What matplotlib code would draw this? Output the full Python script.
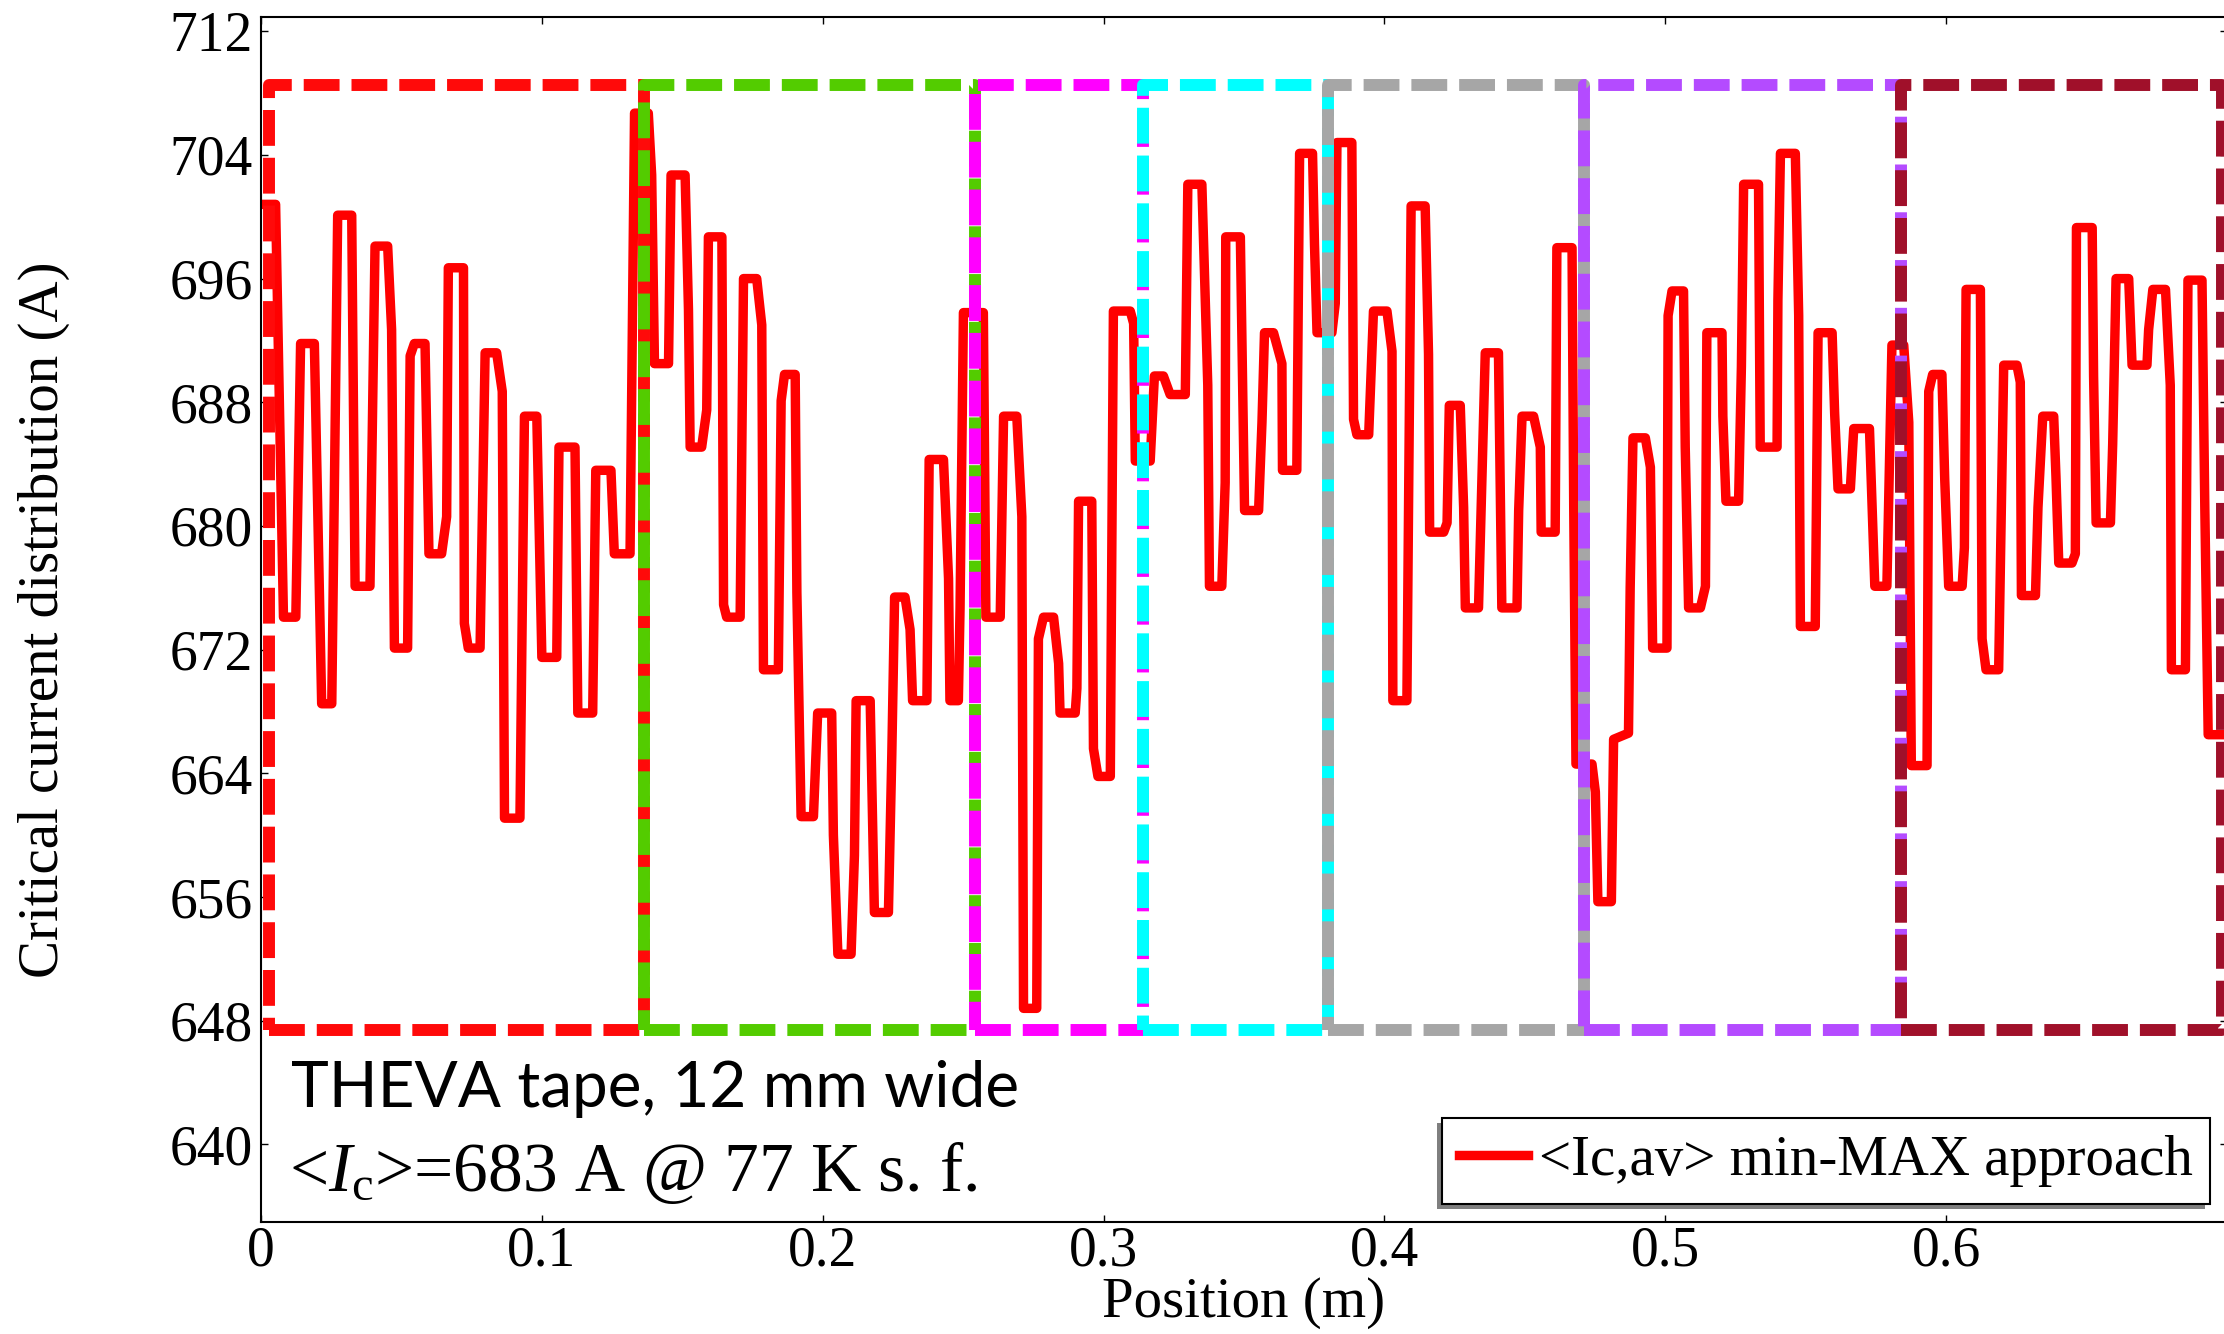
import matplotlib.pyplot as plt
from matplotlib.patches import Rectangle

# min-MAX averaged critical current along the tape
pos = [0.0012, 0.0052, 0.0080, 0.0124, 0.0141, 0.0190, 0.0216, 0.0252, 0.0273, 0.0323,
       0.0335, 0.0388, 0.0406, 0.0451, 0.0465, 0.0475, 0.0522, 0.0531, 0.0546, 0.0584,
       0.0598, 0.0643, 0.0661, 0.0667, 0.0721, 0.0724, 0.0738, 0.0780, 0.0798, 0.0839,
       0.0859, 0.0867, 0.0922, 0.0938, 0.0982, 0.1000, 0.1053, 0.1061, 0.1118, 0.1128,
       0.1181, 0.1192, 0.1246, 0.1258, 0.1314, 0.1330, 0.1379, 0.1391, 0.1401, 0.1451,
       0.1460, 0.1510, 0.1522, 0.1528, 0.1569, 0.1587, 0.1593, 0.1641, 0.1647, 0.1658,
       0.1706, 0.1718, 0.1765, 0.1783, 0.1789, 0.1842, 0.1852, 0.1864, 0.1902, 0.1908,
       0.1923, 0.1967, 0.1982, 0.2032, 0.2038, 0.2054, 0.2101, 0.2113, 0.2119, 0.2169,
       0.2184, 0.2234, 0.2246, 0.2256, 0.2293, 0.2311, 0.2320, 0.2371, 0.2379, 0.2430,
       0.2448, 0.2453, 0.2483, 0.2489, 0.2501, 0.2572, 0.2581, 0.2632, 0.2638, 0.2644,
       0.2691, 0.2709, 0.2715, 0.2762, 0.2768, 0.2786, 0.2822, 0.2840, 0.2845, 0.2899,
       0.2905, 0.2911, 0.2958, 0.2964, 0.2980, 0.3024, 0.3035, 0.3095, 0.3107, 0.3113,
       0.3166, 0.3181, 0.3213, 0.3237, 0.3291, 0.3300, 0.3350, 0.3371, 0.3377, 0.3421,
       0.3433, 0.3435, 0.3487, 0.3502, 0.3552, 0.3564, 0.3573, 0.3605, 0.3635, 0.3637,
       0.3688, 0.3698, 0.3744, 0.3751, 0.3760, 0.3813, 0.3825, 0.3831, 0.3884, 0.3890,
       0.3902, 0.3944, 0.3961, 0.4009, 0.4027, 0.4030, 0.4080, 0.4095, 0.4145, 0.4157,
       0.4161, 0.4211, 0.4223, 0.4231, 0.4270, 0.4282, 0.4288, 0.4335, 0.4359, 0.4406,
       0.4418, 0.4472, 0.4478, 0.4490, 0.4531, 0.4555, 0.4558, 0.4608, 0.4614, 0.4668,
       0.4674, 0.4682, 0.4739, 0.4751, 0.4760, 0.4808, 0.4816, 0.4869, 0.4875, 0.4885,
       0.4929, 0.4947, 0.4955, 0.5006, 0.5010, 0.5024, 0.5065, 0.5071, 0.5083, 0.5125,
       0.5143, 0.5148, 0.5202, 0.5205, 0.5216, 0.5261, 0.5271, 0.5279, 0.5332, 0.5338,
       0.5398, 0.5401, 0.5410, 0.5463, 0.5475, 0.5481, 0.5534, 0.5544, 0.5594, 0.5603,
       0.5615, 0.5659, 0.5671, 0.5683, 0.5727, 0.5746, 0.5789, 0.5807, 0.5849, 0.5867,
       0.5876, 0.5932, 0.5938, 0.5952, 0.5985, 0.5995, 0.6009, 0.6057, 0.6065, 0.6071,
       0.6122, 0.6128, 0.6142, 0.6187, 0.6205, 0.6252, 0.6264, 0.6268, 0.6318, 0.6327,
       0.6344, 0.6383, 0.6391, 0.6401, 0.6448, 0.6460, 0.6464, 0.6520, 0.6525, 0.6534,
       0.6585, 0.6593, 0.6605, 0.6650, 0.6662, 0.6715, 0.6721, 0.6736, 0.6781, 0.6798,
       0.6802, 0.6852, 0.6861, 0.6911, 0.6921, 0.6933, 0.7000]
ic = [700.8, 700.8, 674.1, 674.1, 691.8, 691.8, 668.5, 668.5, 700.1, 700.1,
      676.1, 676.1, 698.1, 698.1, 692.7, 672.1, 672.1, 691.0, 691.8, 691.8,
      678.2, 678.2, 680.6, 696.7, 696.7, 673.7, 672.1, 672.1, 691.2, 691.2,
      688.7, 661.1, 661.1, 687.1, 687.1, 671.5, 671.5, 685.1, 685.1, 667.9,
      667.9, 683.6, 683.6, 678.2, 678.2, 706.7, 706.7, 702.7, 690.5, 690.5,
      702.7, 702.7, 694.0, 685.1, 685.1, 687.5, 698.7, 698.7, 674.9, 674.1,
      674.1, 696.0, 696.0, 693.0, 670.7, 670.7, 688.1, 689.8, 689.8, 675.7,
      661.2, 661.2, 667.9, 667.9, 660.0, 652.3, 652.3, 658.7, 668.7, 668.7,
      655.0, 655.0, 665.2, 675.4, 675.4, 673.3, 668.7, 668.7, 684.3, 684.3,
      676.6, 668.7, 668.7, 674.7, 693.8, 693.8, 674.1, 674.1, 680.6, 687.1,
      687.1, 680.6, 648.8, 648.8, 672.7, 674.1, 674.1, 671.1, 667.9, 667.9,
      669.5, 681.6, 681.6, 665.6, 663.8, 663.8, 693.9, 693.9, 693.1, 684.2,
      684.2, 689.7, 689.7, 688.5, 688.5, 702.1, 702.1, 689.1, 676.1, 676.1,
      682.8, 698.7, 698.7, 681.0, 681.0, 686.7, 692.5, 692.5, 690.5, 683.6,
      683.6, 704.1, 704.1, 698.2, 692.5, 692.5, 694.4, 704.8, 704.8, 686.9,
      685.9, 685.9, 693.9, 693.9, 691.3, 668.7, 668.7, 700.7, 700.7, 691.1,
      679.6, 679.6, 680.2, 687.8, 687.8, 681.2, 674.7, 674.7, 691.2, 691.2,
      674.7, 674.7, 681.0, 687.1, 687.1, 685.1, 679.6, 679.6, 698.0, 698.0,
      681.2, 664.6, 664.6, 662.8, 655.7, 655.7, 666.2, 666.6, 676.0, 685.7,
      685.7, 683.8, 672.1, 672.1, 693.6, 695.2, 695.2, 685.1, 674.7, 674.7,
      676.1, 692.5, 692.5, 687.1, 681.6, 681.6, 690.3, 702.1, 702.1, 685.1,
      685.1, 694.6, 704.1, 704.1, 693.6, 673.5, 673.5, 692.5, 692.5, 687.3,
      682.4, 682.4, 686.3, 686.3, 686.3, 676.1, 676.1, 691.7, 691.7, 686.7,
      664.5, 664.5, 688.7, 689.8, 689.8, 683.0, 676.1, 676.1, 678.6, 695.3,
      695.3, 672.7, 670.7, 670.7, 690.4, 690.4, 689.3, 675.5, 675.5, 681.2,
      687.1, 687.1, 683.2, 677.6, 677.6, 678.2, 699.3, 699.3, 689.7, 680.2,
      680.2, 685.3, 696.0, 696.0, 690.4, 690.4, 692.7, 695.3, 695.3, 689.1,
      670.7, 670.7, 695.9, 695.9, 681.2, 666.5, 666.5]

# tape sections marked with dashed boxes
box_edges = [0.0028, 0.1362, 0.2543, 0.3140, 0.3799, 0.4710, 0.5838, 0.6983]
box_colors = ['#FF0A0A', '#53CC00', '#FF00FF', '#00FFFF', '#A6A6A6', '#B44BFF', '#A0102A']
box_low = 647.4
box_high = 708.5

xticks = [0, 0.1, 0.2, 0.3, 0.4, 0.5, 0.6]
xtick_labels = ['0', '0.1', '0.2', '0.3', '0.4', '0.5', '0.6']
yticks = [640, 648, 656, 664, 672, 680, 688, 696, 704, 712]

plt.rcParams['font.family'] = 'Liberation Serif'
plt.rcParams['mathtext.fontset'] = 'custom'
plt.rcParams['mathtext.rm'] = 'Liberation Serif'
plt.rcParams['mathtext.it'] = 'Liberation Serif:italic'

W, H = 2224, 1334
fig = plt.figure(figsize=(W / 100, H / 100), dpi=100)
ax = fig.add_axes([261 / W, 1 - 1221.7 / H, (2227 - 261) / W, (1221.7 - 17.3) / H])

curve, = ax.plot(pos, ic, color='#FF0000', lw=6.8, zorder=2,
                 label='<Ic,av> min-MAX approach')

for i in range(len(box_colors)):
    x0 = box_edges[i]
    x1 = box_edges[i + 1]
    ax.plot([x0, x1, x1, x0, x0], [box_low, box_low, box_high, box_high, box_low],
            color=box_colors[i], lw=8.6, dashes=[3.0, 1.0], zorder=3)

ax.set_xlim(0, 0.7)
ax.set_ylim(635, 712.9)
ax.set_xticks(xticks)
ax.set_xticklabels(xtick_labels)
ax.set_yticks(yticks)
ax.tick_params(direction='in', length=5, width=1, top=True, right=True, labelsize=40)
ax.tick_params(axis='x', pad=3)
ax.tick_params(axis='y', pad=6)
for s in ax.spines.values():
    s.set_linewidth(1.5)

ax.set_ylabel('Critical current distribution (A)', fontsize=41)
ax.yaxis.set_label_coords(-0.097, 0.5)
ax.set_xlabel('Position (m)', fontsize=41)
ax.xaxis.set_label_coords(0.5, -0.046)

fig.text(291 / W, 1 - 1107 / H, 'THEVA tape, 12 mm wide', family='Lato',
         fontsize=46, va='baseline')
fig.text(289 / W, 1 - 1191 / H, r'<$I_\mathrm{c}$>=683 A @ 77 K s. f.',
         fontsize=50, va='baseline')

leg = fig.legend(handles=[curve], loc='lower right',
                 bbox_to_anchor=(2210 / W, 1 - 1204 / H), fontsize=41,
                 fancybox=False, edgecolor='black', framealpha=1,
                 handlelength=1.2, handletextpad=0.2, borderpad=0.3,
                 borderaxespad=0)
leg.get_frame().set_linewidth(1.5)
leg.set_zorder(5)

# offset shadow under the legend box
fig.canvas.draw()
bb = leg.get_window_extent()
shadow = Rectangle(((bb.x0 - 5) / W, (bb.y0 - 5) / H), bb.width / W, bb.height / H,
                   transform=fig.transFigure, facecolor='#7F7F7F', edgecolor='none',
                   zorder=4.5)
fig.add_artist(shadow)

fig.savefig('out.png', dpi=100)
